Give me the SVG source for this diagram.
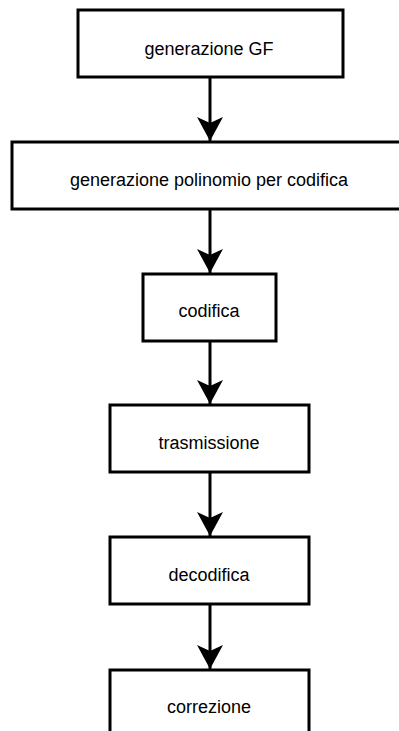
<svg xmlns="http://www.w3.org/2000/svg" width="399" height="731" viewBox="0 0 399 731">
  <style>
    .box { fill: #ffffff; stroke: #000000; stroke-width: 3; }
    .lbl { font-family: "Liberation Sans", Arial, sans-serif; font-size: 18px; fill: #000000; text-anchor: middle; }
    .edge { stroke: #000000; stroke-width: 3; fill: none; }
  </style>
  <defs>
    <!-- filled arrowhead with a shallow notch; tip sits on the path end -->
    <marker id="arrow" markerUnits="userSpaceOnUse" markerWidth="30" markerHeight="30" viewBox="-27 -15 30 30" refX="0" refY="0" orient="auto">
      <path d="M0,0 L-24,-13 L-18,0 L-24,13 Z" fill="#000000" stroke="none"/>
    </marker>
  </defs>

  <rect width="399" height="731" fill="#ffffff"/>

  <g id="connectors">
    <path class="edge" d="M210,77 V141" marker-end="url(#arrow)"/>
    <path class="edge" d="M210,209 V273" marker-end="url(#arrow)"/>
    <path class="edge" d="M210,341 V404" marker-end="url(#arrow)"/>
    <path class="edge" d="M210,472 V536" marker-end="url(#arrow)"/>
    <path class="edge" d="M210,604 V669" marker-end="url(#arrow)"/>
  </g>

  <g id="node-gf">
    <rect class="box" x="78" y="10" width="265" height="67"/>
    <text class="lbl" x="209" y="55">generazione GF</text>
  </g>
  <g id="node-polinomio">
    <rect class="box" x="12" y="142" width="395" height="67"/>
    <text class="lbl" x="209" y="186">generazione polinomio per codifica</text>
  </g>
  <g id="node-codifica">
    <rect class="box" x="143" y="274" width="133" height="67"/>
    <text class="lbl" x="209" y="317">codifica</text>
  </g>
  <g id="node-trasmissione">
    <rect class="box" x="110" y="405" width="199" height="67"/>
    <text class="lbl" x="209" y="449">trasmissione</text>
  </g>
  <g id="node-decodifica">
    <rect class="box" x="110" y="537" width="199" height="67"/>
    <text class="lbl" x="209" y="581">decodifica</text>
  </g>
  <g id="node-correzione">
    <rect class="box" x="110" y="670" width="199" height="67"/>
    <text class="lbl" x="209" y="713">correzione</text>
  </g>
</svg>
